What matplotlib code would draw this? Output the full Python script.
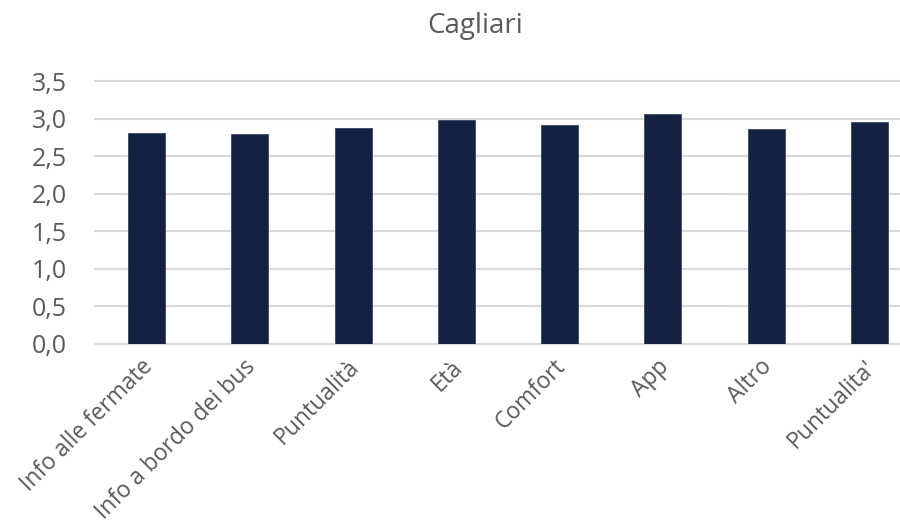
import matplotlib
matplotlib.use("Agg")
import matplotlib.pyplot as plt
import matplotlib.transforms as mtransforms

categories = ["Info alle fermate", "Info a bordo dei bus", "Puntualità", "Età",
              "Comfort", "App", "Altro", "Puntualita'"]
values = [2.81, 2.80, 2.87, 2.98, 2.91, 3.06, 2.86, 2.95]
yticks = [0.0, 0.5, 1.0, 1.5, 2.0, 2.5, 3.0, 3.5]
ytick_labels = ["0,0", "0,5", "1,0", "1,5", "2,0", "2,5", "3,0", "3,5"]
title = "Cagliari"

plt.rcParams['font.family'] = ['Open Sans', 'DejaVu Sans']
W, H = 900, 530
fig = plt.figure(figsize=(W/100, H/100), dpi=100)
ax = fig.add_axes([95/W, 1-344/H, (921-95)/W, (344-81)/H])

x = list(range(len(categories)))
ax.bar(x, values, width=0.36, color="#152142", edgecolor="#3a4560", linewidth=0.6, zorder=3)
ax.set_xlim(-0.5, len(categories)-0.5)
ax.set_ylim(0, 3.5)
ax.set_yticks(yticks)
ax.set_yticklabels(ytick_labels)
ax.yaxis.grid(True, color="#d9d9d9", linewidth=1.5, zorder=0)
for gl in ax.get_ygridlines():
    gl.set_clip_on(False)
for s in ["top", "right", "left"]:
    ax.spines[s].set_visible(False)
ax.spines["bottom"].set_color("#d9d9d9")
ax.spines["bottom"].set_linewidth(1.5)
ax.tick_params(axis="y", length=0, pad=20, labelsize=18, labelcolor="#595959")
ax.tick_params(axis="x", length=0, pad=8, labelsize=16.5, labelcolor="#595959")
ax.set_xticks(x)
ax.set_xticklabels(categories, rotation=45, ha="right", va="top", rotation_mode="anchor")
offset = mtransforms.ScaledTranslation(-6/100, 0, fig.dpi_scale_trans)
for lbl in ax.get_xticklabels():
    lbl.set_transform(lbl.get_transform() + offset)
fig.text(475/W, 1-26/H, title, ha="center", va="center", fontsize=20, color="#595959")
fig.savefig("out.png", dpi=100)
